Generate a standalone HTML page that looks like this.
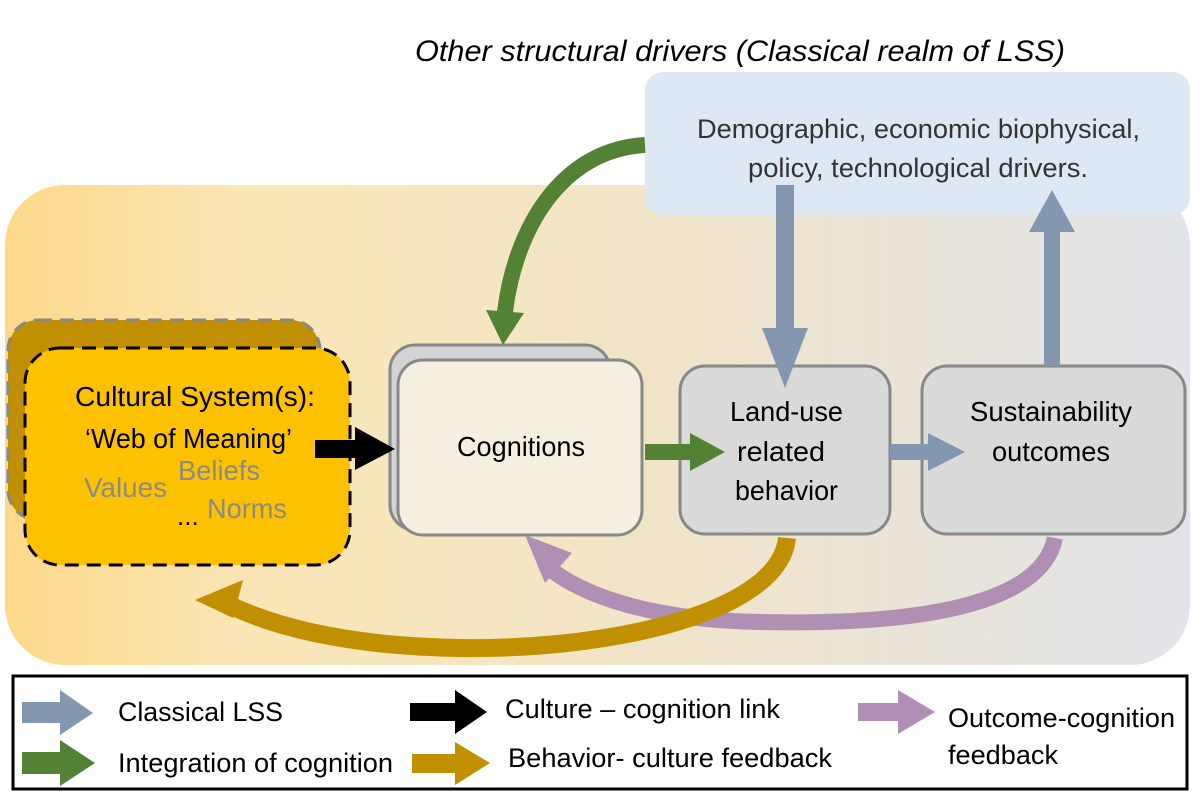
<!DOCTYPE html>
<html><head><meta charset="utf-8"><style>
html,body{margin:0;padding:0;background:#fff;}
svg{display:block;}
text{font-family:"Liberation Sans",Arial,sans-serif;}
</style></head><body>
<svg width="1200" height="801" viewBox="0 0 1200 801" xmlns="http://www.w3.org/2000/svg">
<defs>
<linearGradient id="bg" x1="0" y1="0" x2="1" y2="0">
<stop offset="0" stop-color="#fcd98a"/>
<stop offset="0.2" stop-color="#fbe6b6"/>
<stop offset="0.6" stop-color="#f0e4cc"/>
<stop offset="1" stop-color="#e1e4ea"/>
</linearGradient>
</defs>
<text x="415" y="61" font-size="30" font-style="italic" textLength="650" lengthAdjust="spacingAndGlyphs" fill="#000">Other structural drivers (Classical realm of LSS)</text>
<rect x="5" y="185" width="1185" height="480" rx="60" fill="url(#bg)"/>
<rect x="645" y="72" width="545" height="143" rx="18" fill="#dde8f4"/>
<text x="697" y="138" font-size="27" textLength="443" lengthAdjust="spacingAndGlyphs" fill="#333">Demographic, economic biophysical,</text>
<text x="748" y="177" font-size="27" textLength="340" lengthAdjust="spacingAndGlyphs" fill="#333">policy, technological drivers.</text>
<rect x="8" y="320" width="312" height="200" rx="30" fill="#c09000" stroke="#888" stroke-width="3" stroke-dasharray="14 8"/>
<rect x="25" y="348" width="325" height="217" rx="35" fill="#fdc100" stroke="#000" stroke-width="3" stroke-dasharray="14 8"/>
<text x="75" y="406" font-size="28" textLength="240" lengthAdjust="spacingAndGlyphs" fill="#000">Cultural System(s):</text>
<text x="85" y="448" font-size="28" textLength="207" lengthAdjust="spacingAndGlyphs" fill="#000">‘Web of Meaning’</text>
<text x="84" y="497" font-size="28" textLength="83" lengthAdjust="spacingAndGlyphs" fill="#8a8a8a">Values</text>
<text x="178" y="480" font-size="28" textLength="82" lengthAdjust="spacingAndGlyphs" fill="#8a8a8a">Beliefs</text>
<text x="207" y="518" font-size="28" textLength="80" lengthAdjust="spacingAndGlyphs" fill="#8a8a8a">Norms</text>
<text x="177" y="525" font-size="26" fill="#000">...</text>
<rect x="390" y="345" width="220" height="185" rx="25" fill="#d4d4d6" stroke="#888" stroke-width="3"/>
<rect x="398" y="360" width="244" height="175" rx="25" fill="#f5efe2" stroke="#888" stroke-width="3"/>
<text x="457" y="456" font-size="28" textLength="128" lengthAdjust="spacingAndGlyphs" fill="#000">Cognitions</text>
<rect x="680" y="366" width="210" height="168" rx="25" fill="#d9d9d9" stroke="#888" stroke-width="3"/>
<text x="730" y="421" font-size="28" textLength="113" lengthAdjust="spacingAndGlyphs" fill="#000">Land-use</text>
<text x="737" y="461" font-size="28" textLength="88" lengthAdjust="spacingAndGlyphs" fill="#000">related</text>
<text x="735" y="500" font-size="28" textLength="103" lengthAdjust="spacingAndGlyphs" fill="#000">behavior</text>
<rect x="922" y="366" width="263" height="168" rx="25" fill="#d9d9d9" stroke="#888" stroke-width="3"/>
<text x="970" y="421" font-size="28" textLength="162" lengthAdjust="spacingAndGlyphs" fill="#000">Sustainability</text>
<text x="992" y="461" font-size="28" textLength="118" lengthAdjust="spacingAndGlyphs" fill="#000">outcomes</text>
<polygon points="315,440 355,440 355,427 395,449 355,470 355,458 315,458" fill="#000"/>
<polygon points="645,444 690,444 690,433 725,452 690,471 690,460 645,460" fill="#548235"/>
<polygon points="890,444 928,444 928,433 965,452 928,471 928,460 890,460" fill="#8497b0"/>
<polygon points="776,185 794,185 794,328 808,328 785,388 762,328 776,328" fill="#8497b0"/>
<polygon points="1044,366 1060,366 1060,232 1075,232 1052,190 1029,232 1044,232" fill="#8497b0"/>
<path d="M645,145 C560,150 515,230 505,312" fill="none" stroke="#548235" stroke-width="16"/>
<polygon points="486,310 524,313 503,345" fill="#548235"/>
<path d="M1055,538 C1040,610 900,625 760,622 C650,620 580,595 545,565" fill="none" stroke="#b08fb4" stroke-width="16"/>
<polygon points="525,535 572,553 545,583" fill="#b08fb4"/>
<path d="M787,538 C780,610 620,650 460,648 C340,646 270,625 225,603" fill="none" stroke="#c09000" stroke-width="18"/>
<polygon points="195,600 243,580 233,618" fill="#c09000"/>
<rect x="13" y="676" width="1174" height="113" fill="#fff" stroke="#000" stroke-width="3"/>
<polygon points="22,702 60,702 60,690 93,713 60,735 60,723 22,723" fill="#8497b0"/>
<text x="118" y="721" font-size="27" textLength="165" lengthAdjust="spacingAndGlyphs" fill="#000">Classical LSS</text>
<polygon points="410,703 455,703 455,690 487,712 455,734 455,721 410,721" fill="#000"/>
<text x="505" y="718" font-size="27" textLength="275" lengthAdjust="spacingAndGlyphs" fill="#000">Culture – cognition link</text>
<polygon points="858,703 898,703 898,690 935,712 898,734 898,721 858,721" fill="#b08fb4"/>
<text x="948" y="727" font-size="27" textLength="227" lengthAdjust="spacingAndGlyphs" fill="#000">Outcome-cognition</text>
<text x="948" y="764" font-size="27" textLength="110" lengthAdjust="spacingAndGlyphs" fill="#000">feedback</text>
<polygon points="22,752 60,752 60,740 95,763 60,786 60,774 22,774" fill="#548235"/>
<text x="118" y="772" font-size="27" textLength="275" lengthAdjust="spacingAndGlyphs" fill="#000">Integration of cognition</text>
<polygon points="412,754 455,754 455,742 490,763 455,785 455,773 412,773" fill="#c09000"/>
<text x="508" y="767" font-size="27" textLength="324" lengthAdjust="spacingAndGlyphs" fill="#000">Behavior- culture feedback</text>
</svg>
</body></html>
